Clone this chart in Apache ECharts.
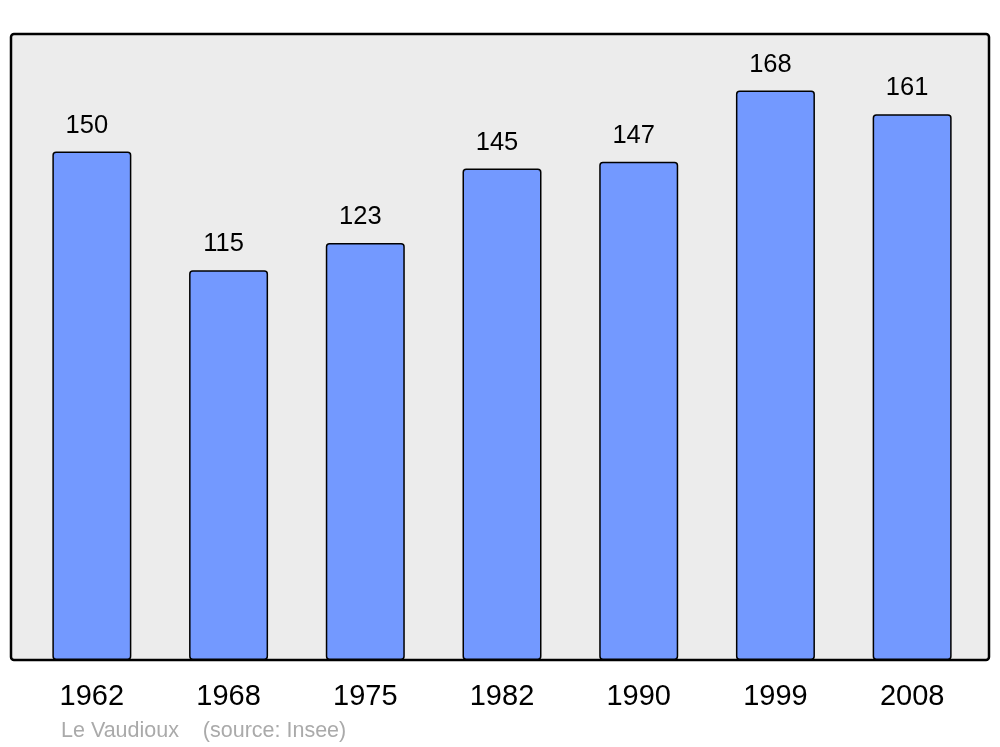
<!DOCTYPE html>
<html>
<head>
<meta charset="utf-8">
<script src="https://cdn.jsdelivr.net/npm/echarts@6/dist/echarts.min.js"></script>
<style>
html,body{margin:0;padding:0;background:#fff;}
#chart{width:1000px;height:747px;}
</style>
</head>
<body>
<div id="chart"></div>
<script>
const years = ['1962','1968','1975','1982','1990','1999','2008'];
const population = [150, 115, 123, 145, 147, 168, 161];
const footerText = 'Le Vaudioux    (source: Insee)';

const chart = echarts.init(document.getElementById('chart'), null, {renderer: 'canvas'});
const font = '"Liberation Sans", Arial, sans-serif';
chart.setOption({
  animation: false,
  backgroundColor: '#ffffff',
  textStyle: {fontFamily: font},
  grid: {left: 23.5, right: 19.5, top: 34, bottom: 87, containLabel: false},
  graphic: [
    {type: 'rect', z: -10, silent: true,
     shape: {x: 11, y: 34, width: 978, height: 626, r: 3},
     style: {fill: '#ececec', stroke: '#000000', lineWidth: 2.5}},
    {type: 'text', left: 61, top: 720, z: 10, silent: true,
     style: {text: footerText, fill: '#aaaaaa', font: '21.5px ' + font}}
  ],
  xAxis: {
    type: 'category', data: years,
    axisLine: {show: false}, axisTick: {show: false},
    axisLabel: {fontSize: 29, color: '#000', margin: 22, fontFamily: font}
  },
  yAxis: {
    type: 'value', min: 0, max: 184.7,
    show: false, splitLine: {show: false}
  },
  series: [{
    type: 'bar', data: population, barWidth: 79, z: 2,
    itemStyle: {color: '#7399ff', borderColor: '#000', borderWidth: 1.5, borderRadius: 3},
    label: {show: true, position: 'top', distance: 13, offset: [-5, 0],
            fontSize: 25.5, color: '#000', fontFamily: font}
  }]
});
</script>
</body>
</html>
